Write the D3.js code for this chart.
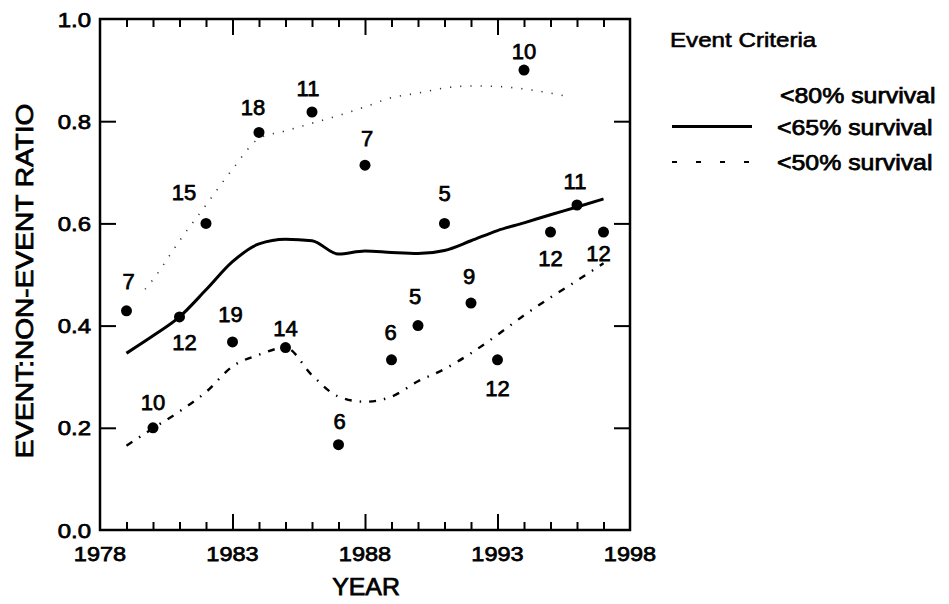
<!DOCTYPE html>
<html><head><meta charset="utf-8">
<script src="https://cdn.jsdelivr.net/npm/d3@7"></script>
<style>
html,body{margin:0;padding:0;background:#fff;}
svg{display:block;background:#fff;}
text{font-family:"Liberation Sans",Arial,sans-serif;fill:#000;}
</style></head><body>
<svg id="chart" width="949" height="604"></svg>
<script>
// ---------------- data ----------------
const years = [1979,1980,1981,1982,1983,1984,1985,1986,1987,1988,1989,1990,1991,1992,1993,1994,1995,1996,1997];
const ratios = [0.429,0.200,0.417,0.600,0.368,0.778,0.357,0.818,0.167,0.714,0.333,0.400,0.600,0.444,0.333,0.900,0.583,0.636,0.583];
const eventCounts = [7,10,12,15,19,18,14,11,6,7,6,5,5,9,12,10,12,11,12];

const curve80Years = [1979.7,1980,1981,1982,1983,1984,1985,1986,1987,1988,1989,1990,1991,1992,1993,1994,1995,1995.5];
const curve80 = [0.471,0.490,0.566,0.636,0.706,0.766,0.781,0.796,0.811,0.828,0.846,0.855,0.865,0.869,0.868,0.863,0.855,0.850];

const curve65Years = [1979,1980,1981,1982,1983,1984,1985,1986,1987,1988,1989,1990,1991,1992,1993,1994,1995,1996,1997];
const curve65 = [0.346,0.380,0.417,0.470,0.525,0.560,0.569,0.566,0.540,0.546,0.543,0.541,0.547,0.566,0.586,0.601,0.617,0.632,0.648];

const curve50Years = [1979,1980,1981,1982,1983,1984,1985,1986,1987,1988,1989,1990,1991,1992,1993,1994,1995,1996,1997];
const curve50 = [0.165,0.199,0.232,0.270,0.320,0.343,0.357,0.303,0.261,0.251,0.261,0.291,0.315,0.346,0.382,0.420,0.455,0.488,0.522];

const xMajorTicks = [1978,1983,1988,1993,1998];
const xTickLabels = ["1978","1983","1988","1993","1998"];
const xMinorTicks = [1979,1980,1981,1982,1984,1985,1986,1987,1989,1990,1991,1992,1994,1995,1996,1997];
const yMajorTicks = [0,0.2,0.4,0.6,0.8,1.0];
const yTickLabels = ["0.0","0.2","0.4","0.6","0.8","1.0"];

const xTitle = "YEAR";
const yTitle = "EVENT:NON-EVENT RATIO";
const legendTitle = "Event Criteria";
const legendLabels = ["<80% survival","<65% survival","<50% survival"];

// ---------------- layout ----------------
// label offsets (dx, dy) relative to each point
const labelOffsets = [[2,-30],[0,-26],[5,25],[-22,-31],[-2,-28],[-6,-25],[0,-20],[-4,-24],[1,-24],[2,-27],[-1,-28],[-3,-30],[0,-30],[-2,-27],[0,28],[0,-19],[0,26],[-2,-24],[-5,21]];

const svg = d3.select("#chart");
const L = 100, R = 630, T = 19, B = 530;
const x = d3.scaleLinear().domain([1978,1998]).range([L,R]);
const y = d3.scaleLinear().domain([0,1]).range([B,T]);
const TW = 0.75; // text stroke to mimic the heavy scanned type

function stretch(sel,k){
  sel.each(function(){
    const len = this.getComputedTextLength();
    this.setAttribute("textLength", len*k);
    this.setAttribute("lengthAdjust","spacingAndGlyphs");
  });
}

function styleAxis(g){
  g.select(".domain").remove();
  g.selectAll(".tick line").attr("stroke","#000").attr("stroke-width",2);
}
const inner = [1983,1988,1993];
svg.append("g").attr("transform",`translate(0,${B})`)
  .call(d3.axisBottom(x).tickValues(inner).tickSize(-16).tickFormat("")).call(styleAxis);
svg.append("g").attr("transform",`translate(0,${B})`)
  .call(d3.axisBottom(x).tickValues(xMinorTicks).tickSize(-8).tickFormat("")).call(styleAxis);
svg.append("g").attr("transform",`translate(0,${T})`)
  .call(d3.axisTop(x).tickValues(inner).tickSize(-16).tickFormat("")).call(styleAxis);
svg.append("g").attr("transform",`translate(0,${T})`)
  .call(d3.axisTop(x).tickValues(xMinorTicks).tickSize(-8).tickFormat("")).call(styleAxis);
const yInner = [0.2,0.4,0.6,0.8];
svg.append("g").attr("transform",`translate(${L},0)`)
  .call(d3.axisLeft(y).tickValues(yInner).tickSize(-16).tickFormat("")).call(styleAxis);
svg.append("g").attr("transform",`translate(${R},0)`)
  .call(d3.axisRight(y).tickValues(yInner).tickSize(-16).tickFormat("")).call(styleAxis);

svg.append("rect").attr("x",L).attr("y",T).attr("width",R-L).attr("height",B-T)
  .attr("fill","none").attr("stroke","#000").attr("stroke-width",2.5);

const xl = svg.append("g").selectAll("text").data(xMajorTicks).join("text")
  .attr("x",d=>x(d)).attr("y",B+31).attr("text-anchor","middle")
  .attr("font-size",21).attr("stroke","#000").attr("stroke-width",TW)
  .text((d,i)=>xTickLabels[i]);
stretch(xl,1.12);
const yl = svg.append("g").selectAll("text").data(yMajorTicks).join("text")
  .attr("x",L-9).attr("y",d=>y(d)+7.5).attr("text-anchor","end")
  .attr("font-size",21).attr("stroke","#000").attr("stroke-width",TW)
  .text((d,i)=>yTickLabels[i]);
stretch(yl,1.14);

const xt = svg.append("text").attr("x",366).attr("y",595).attr("text-anchor","middle")
  .attr("font-size",23).attr("stroke","#000").attr("stroke-width",TW).text(xTitle);
stretch(xt,1.08);
const yt = svg.append("text").attr("transform",`translate(33,281) rotate(-90)`).attr("text-anchor","middle")
  .attr("font-size",24).attr("stroke","#000").attr("stroke-width",TW).text(yTitle);
stretch(yt,1.17);

const line = (xs,vs)=> d3.line().curve(d3.curveMonotoneX)
  .x((d,i)=>x(xs[i])).y(d=>y(d))(vs);
svg.append("path").attr("d",line(curve80Years,curve80)).attr("fill","none")
  .attr("stroke","#000").attr("stroke-width",1.6).attr("stroke-dasharray","1.2,9").attr("opacity",0.8);
svg.append("path").attr("d",line(curve65Years,curve65)).attr("fill","none")
  .attr("stroke","#000").attr("stroke-width",3);
svg.append("path").attr("d",line(curve50Years,curve50)).attr("fill","none")
  .attr("stroke","#000").attr("stroke-width",2.4).attr("stroke-dasharray","7,8,1.5,8");

svg.append("g").selectAll("circle").data(years).join("circle")
  .attr("cx",d=>x(d)).attr("cy",(d,i)=>y(ratios[i])).attr("r",5.5).attr("fill","#000");

svg.append("g").selectAll("text").data(years).join("text")
  .attr("x",(d,i)=>x(d)+labelOffsets[i][0])
  .attr("y",(d,i)=>y(ratios[i])+labelOffsets[i][1]+8)
  .attr("text-anchor","middle").attr("font-size",22)
  .attr("stroke","#000").attr("stroke-width",TW)
  .text((d,i)=>eventCounts[i]);

const lt = svg.append("text").attr("x",670).attr("y",46.5).attr("font-size",21)
  .attr("stroke","#000").attr("stroke-width",0.6).text(legendTitle);
stretch(lt,1.15);
const legY = [103,135,169.5];
const legX = [780,777,777];
legendLabels.forEach((s,i)=>{
  const t = svg.append("text").attr("x",legX[i]).attr("y",legY[i]).attr("font-size",22)
    .attr("stroke","#000").attr("stroke-width",TW).text(s);
  stretch(t,1.13);
});
svg.append("line").attr("x1",672).attr("x2",752).attr("y1",126.5).attr("y2",126.5)
  .attr("stroke","#000").attr("stroke-width",3);
svg.append("line").attr("x1",672).attr("x2",752).attr("y1",162).attr("y2",162)
  .attr("stroke","#000").attr("stroke-width",2).attr("stroke-dasharray","5,19");
</script>
</body></html>
